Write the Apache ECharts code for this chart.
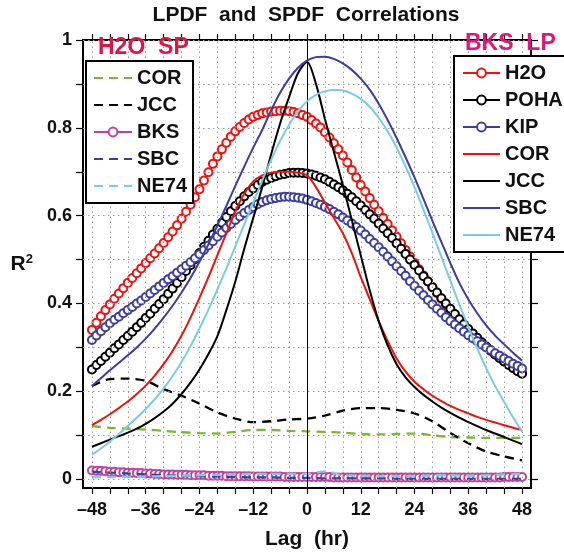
<!DOCTYPE html>
<html><head><meta charset="utf-8">
<script src="https://cdn.jsdelivr.net/npm/echarts@6/dist/echarts.min.js"></script>
<style>html,body{margin:0;padding:0;background:#fff}#c{width:564px;height:552px}</style>
</head><body><div id="c"></div>
<script>
// ---- axes / ticks ----
const xTicks = [-48,-44,-40,-36,-32,-28,-24,-20,-16,-12,-8,-4,0,4,8,12,16,20,24,28,32,36,40,44,48];
const xLabels = [-48,-36,-24,-12,0,12,24,36,48];
const yTicks = [0,0.1,0.2,0.3,0.4,0.5,0.6,0.7,0.8,0.9,1];
const yLabels = [0,0.2,0.4,0.6,0.8,1];

// ---- lags ----
const lagHourly = [-48,-47,-46,-45,-44,-43,-42,-41,-40,-39,-38,-37,-36,-35,-34,-33,-32,-31,-30,-29,-28,-27,-26,-25,-24,-23,-22,-21,-20,-19,-18,-17,-16,-15,-14,-13,-12,-11,-10,-9,-8,-7,-6,-5,-4,-3,-2,-1,0,1,2,3,4,5,6,7,8,9,10,11,12,13,14,15,16,17,18,19,20,21,22,23,24,25,26,27,28,29,30,31,32,33,34,35,36,37,38,39,40,41,42,43,44,45,46,47,48];
const lag2 = [-48,-46,-44,-42,-40,-38,-36,-34,-32,-30,-28,-26,-24,-22,-20,-18,-16,-14,-12,-10,-8,-6,-4,-2,0,2,4,6,8,10,12,14,16,18,20,22,24,26,28,30,32,34,36,38,40,42,44,46,48];
const lag4 = [-48,-44,-40,-36,-32,-28,-24,-20,-16,-12,-8,-4,0,4,8,12,16,20,24,28,32,36,40,44,48];

// ---- hourly series with circles ----
const h2o = [.340,.356,.371,.385,.398,.411,.423,.435,.447,
.458,.469,.480,.492,.503,.514,.526,.538,.551,.564,
.578,.593,.609,.625,.642,.660,.680,.699,.718,.735,
.751,.766,.780,.792,.802,.811,.819,.825,.829,.833,
.835,.837,.838,.839,.839,.838,.836,.833,.829,.825,
.818,.810,.801,.790,.778,.765,.751,.737,.721,.704,
.687,.670,.655,.640,.625,.610,.595,.581,.566,.552,
.537,.522,.507,.492,.478,.464,.450,.437,.424,.411,
.398,.386,.374,.362,.351,.340,.330,.320,.310,.301,
.292,.284,.276,.268,.261,.254,.248,.242];
const poha = [.250,.260,.269,.279,.288,.298,.307,.317,.326,
.336,.346,.356,.367,.377,.388,.399,.410,.422,.434,
.447,.460,.474,.487,.501,.515,.529,.543,.557,.570,
.584,.597,.610,.622,.633,.644,.654,.662,.670,.677,
.682,.686,.690,.693,.695,.697,.698,.698,.697,.696,
.694,.691,.687,.683,.677,.671,.665,.658,.650,.642,
.633,.623,.613,.603,.593,.582,.571,.560,.549,.537,
.525,.513,.500,.488,.475,.462,.450,.437,.425,.412,
.400,.388,.376,.364,.353,.342,.332,.322,.312,.302,
.293,.284,.276,.268,.260,.253,.246,.240];
const kip = [.317,.327,.337,.346,.355,.363,.370,.378,.385,
.392,.400,.407,.415,.423,.431,.439,.447,.455,.462,
.470,.478,.486,.494,.503,.512,.522,.532,.542,.552,
.562,.572,.581,.590,.598,.606,.613,.620,.626,.631,
.635,.638,.640,.642,.643,.643,.642,.641,.639,.636,
.633,.629,.625,.620,.615,.609,.603,.596,.589,.582,
.574,.566,.557,.547,.538,.528,.518,.507,.496,.485,
.474,.463,.451,.440,.429,.419,.408,.398,.388,.379,
.369,.360,.352,.344,.336,.328,.321,.314,.307,.300,
.294,.287,.281,.275,.269,.263,.258,.252];
const bks = [.020,.019,.019,.018,.017,.017,.016,.016,.015,
.015,.014,.014,.013,.013,.012,.012,.011,.011,.011,
.010,.010,.010,.009,.009,.009,.009,.008,.008,.008,
.008,.007,.007,.007,.007,.007,.007,.006,.006,.006,
.006,.006,.006,.006,.005,.005,.005,.005,.005,.005,
.005,.005,.005,.005,.005,.004,.004,.004,.004,.004,
.004,.004,.004,.004,.004,.004,.004,.004,.004,.004,
.004,.004,.004,.004,.004,.004,.004,.004,.004,.004,
.004,.004,.004,.004,.004,.004,.004,.004,.004,.004,
.004,.004,.004,.005,.005,.005,.005,.005];

// ---- LP solid lines (2-hr) ----
const corLP = [.123,.135,.148,.162,.177,.194,.213,.236,.262,.292,.327,.368,.413,.460,.510,.560,.610,.650,.678,.692,.698,.700,.700,.698,.692,.665,.630,.595,.560,.515,.460,.410,.360,.315,.275,.245,.222,.205,.190,.178,.167,.158,.150,.142,.135,.129,.123,.117,.112];
const jccLP = [.074,.082,.090,.098,.106,.115,.126,.139,.154,.172,.194,.220,.250,.285,.326,.385,.450,.525,.595,.665,.740,.810,.870,.925,.950,.900,.820,.745,.670,.590,.510,.430,.360,.305,.262,.232,.210,.192,.177,.163,.151,.140,.130,.121,.112,.104,.096,.088,.080];
const sbcLP = [.212,.230,.248,.265,.282,.300,.320,.343,.368,.395,.425,.458,.495,.535,.578,.622,.668,.712,.755,.795,.840,.880,.912,.937,.953,.961,.962,.957,.947,.932,.912,.887,.855,.818,.777,.733,.687,.638,.588,.540,.492,.447,.410,.378,.350,.327,.307,.288,.270];
const ne74LP = [.056,.070,.086,.103,.121,.140,.160,.182,.207,.235,.267,.303,.343,.386,.432,.480,.530,.580,.630,.680,.727,.770,.807,.838,.860,.875,.883,.886,.885,.878,.866,.848,.823,.792,.755,.712,.665,.614,.561,.506,.452,.398,.347,.298,.253,.212,.176,.141,.108];

// ---- SP dashed lines (4-hr) ----
const corSP = [.121,.117,.115,.113,.110,.107,.105,.104,.108,.112,.112,.110,.109,.108,.106,.103,.102,.103,.104,.100,.096,.095,.094,.094,.094];
const jccSP = [.212,.228,.229,.224,.205,.190,.172,.152,.138,.130,.132,.136,.138,.145,.156,.162,.162,.158,.150,.132,.105,.082,.063,.052,.043];
const sbcSP = [.017,.015,.013,.011,.009,.008,.007,.006,.005,.004,.004,.003,.003,.002,.002,.002,.002,.001,.001,.001,.001,.001,.001,.001,.001];
const ne74SP = [.004,.005,.005,.006,.007,.008,.009,.010,.011,.012,.012,.012,.012,.018,.009,.008,.007,.007,.007,.009,.009,.008,.009,.011,.012];

const FONT = "'Liberation Sans', Arial, Helvetica, sans-serif";
const RED = '#ee1111', BLUE = '#3d3d9b', CYAN = '#7ccbe0', GREEN = '#79b829', MAG = '#c2409c';
const pairs = (l, v) => l.map((x, i) => [x, v[i]]);

function circleSeries(name, lags, vals, color) {
  return { name, type: 'line', data: pairs(lags, vals), symbol: 'emptyCircle', symbolSize: 8,
    showSymbol: true, showAllSymbol: true, lineStyle: { color, width: 2 },
    itemStyle: { color, borderWidth: 2 }, z: 3, silent: true };
}
function lineSeries(name, lags, vals, color, dashed) {
  return { name, type: 'line', data: pairs(lags, vals), symbol: 'none', smooth: 0.3,
    lineStyle: { color, width: dashed ? 2.3 : 2, type: dashed ? [9, 6] : 'solid' }, itemStyle: { color },
    z: dashed ? 4 : 5, silent: true };
}
const plainItem = n => ({ name: n, itemStyle: { opacity: 0 } });

const gridLineStyle = { color: '#9a9a9a', width: 1, type: [1.5, 3.5] };
const gridMarks = xTicks.map(v => ({ xAxis: v })).concat(yTicks.map(v => ({ yAxis: v })));

const axisFont = { fontSize: 18, fontWeight: 'bold', color: '#111', fontFamily: FONT };
const legendText = { fontSize: 20, fontWeight: 'bold', color: '#111', fontFamily: FONT };

const option = {
  animation: false,
  backgroundColor: '#fff',
  grid: { left: 83, right: 33, top: 40, bottom: 64, containLabel: false, outerBoundsMode: 'none' },
  xAxis: [
    { type: 'value', min: -50, max: 50, position: 'bottom',
      axisLine: { onZero: false, lineStyle: { color: '#000', width: 2 } },
      axisTick: { customValues: xTicks, length: 6, lineStyle: { color: '#000', width: 1.2 } },
      axisLabel: { customValues: xLabels, margin: 13, formatter: v => v < 0 ? '\u2013' + (-v) : String(v), ...axisFont },
      splitLine: { show: false },
      name: 'Lag  (hr)', nameLocation: 'middle', nameGap: 41,
      nameTextStyle: { fontSize: 21, fontWeight: 'bold', color: '#111', fontFamily: FONT } },
    { type: 'value', min: -50, max: 50, position: 'top',
      axisLine: { onZero: false, lineStyle: { color: '#000', width: 2 } },
      axisTick: { customValues: xTicks, length: 6, lineStyle: { color: '#000', width: 1.2 } },
      axisLabel: { show: false }, splitLine: { show: false } }
  ],
  yAxis: [
    { type: 'value', min: -0.02, max: 1, position: 'left',
      axisLine: { onZero: false, show: true, lineStyle: { color: '#000', width: 2 } },
      axisTick: { show: true, customValues: yTicks, length: 7, lineStyle: { color: '#000', width: 1.2 } },
      axisLabel: { customValues: yLabels, margin: 11, formatter: v => String(+(+v).toFixed(1)), ...axisFont },
      splitLine: { show: false },
      name: 'R{s|2}', nameLocation: 'middle', nameRotate: 0, nameGap: 50,
      nameTextStyle: { fontSize: 21, fontWeight: 'bold', color: '#111', fontFamily: FONT,
        rich: { s: { fontSize: 13, fontWeight: 'bold', color: '#111', fontFamily: FONT, verticalAlign: 'top', padding: [0, 0, 10, 0] } } } },
    { type: 'value', min: -0.02, max: 1, position: 'right',
      axisLine: { onZero: false, show: true, lineStyle: { color: '#000', width: 2 } },
      axisTick: { show: true, customValues: yTicks, length: 7, lineStyle: { color: '#000', width: 1.2 } },
      axisLabel: { show: false }, splitLine: { show: false } }
  ],
  legend: [
    { orient: 'vertical', left: 86, top: 61, itemWidth: 38, itemHeight: 11, itemGap: 7,
      padding: [7, 6, 7, 7], borderColor: '#000', borderWidth: 2, backgroundColor: '#fff',
      selectedMode: false, textStyle: legendText, z: 20,
      formatter: n => n.replace(/_.*/, ''),
      data: [plainItem('COR_SP'), plainItem('JCC_SP'), 'BKS', plainItem('SBC_SP'), plainItem('NE74_SP')] },
    { orient: 'vertical', left: 454, top: 56, itemWidth: 37, itemHeight: 11, itemGap: 7,
      padding: [7, 6, 7, 8], borderColor: '#000', borderWidth: 2, backgroundColor: '#fff',
      selectedMode: false, textStyle: legendText, z: 20,
      formatter: n => n.replace(/_.*/, ''),
      data: ['H2O', 'POHA', 'KIP', plainItem('COR_LP'), plainItem('JCC_LP'), plainItem('SBC_LP'), plainItem('NE74_LP')] }
  ],
  graphic: [
    { type: 'text', x: 306, y: 15, style: { text: 'LPDF  and  SPDF  Correlations', align: 'center', verticalAlign: 'middle',
        font: "bold 21px " + FONT, fill: '#111' }, z: 30 },
    { type: 'text', x: 98, y: 48, style: { text: 'H2O  SP', align: 'left', verticalAlign: 'middle',
        font: "bold 23px " + FONT, fill: '#e3124a' }, z: 30 },
    { type: 'text', x: 465, y: 44, style: { text: 'BKS  LP', align: 'left', verticalAlign: 'middle',
        font: "bold 23px " + FONT, fill: '#e0167c' }, z: 30 }
  ],
  series: [
    { name: 'gridlines', type: 'line', data: [], z: 1, silent: true,
      markLine: { silent: true, symbol: ['none', 'none'], label: { show: false }, lineStyle: gridLineStyle,
        emphasis: { disabled: true }, data: gridMarks } },
    circleSeries('H2O', lagHourly, h2o, RED),
    circleSeries('POHA', lagHourly, poha, '#000'),
    circleSeries('KIP', lagHourly, kip, BLUE),
    circleSeries('BKS', lagHourly, bks, MAG),
    lineSeries('COR_SP', lag4, corSP, GREEN, true),
    lineSeries('JCC_SP', lag4, jccSP, '#000', true),
    lineSeries('SBC_SP', lag4, sbcSP, BLUE, true),
    lineSeries('NE74_SP', lag4, ne74SP, CYAN, true),
    lineSeries('COR_LP', lag2, corLP, RED, false),
    lineSeries('JCC_LP', lag2, jccLP, '#000', false),
    lineSeries('SBC_LP', lag2, sbcLP, BLUE, false),
    lineSeries('NE74_LP', lag2, ne74LP, CYAN, false),
    { name: 'zeroline', type: 'line', data: [], z: 10, silent: true,
      markLine: { silent: true, symbol: ['none', 'none'], label: { show: false },
        lineStyle: { color: '#000', width: 1, type: 'solid' }, emphasis: { disabled: true }, data: [{ xAxis: 0 }] } }
  ]
};
const chart = echarts.init(document.getElementById('c'), null, { renderer: 'canvas' });
chart.setOption(option);
</script>
</body></html>
